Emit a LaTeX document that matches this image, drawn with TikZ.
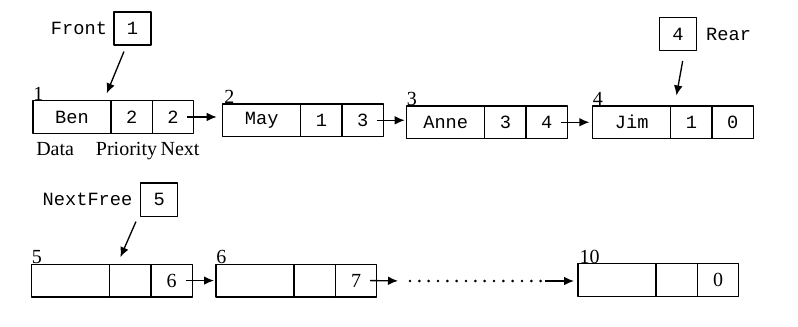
\documentclass[tikz,border=0pt]{standalone}
\usepackage{fontspec}
\setmainfont{Liberation Serif}
\setmonofont{Liberation Mono}
\usetikzlibrary{positioning,arrows.meta}

\tikzset{
  cell/.style={draw,line width=1.1pt,outer sep=0pt,inner sep=0pt,minimum height=24.4pt,
    font=\ttfamily\fontsize{14}{16}\selectfont},
  datacell/.style={cell,minimum width=58.5pt},
  numcell/.style={cell,minimum width=31pt},
  freecell/.style={font=\rmfamily\fontsize{15}{17}\selectfont},
  ptrbox/.style={draw,line width=1.1pt,inner sep=0pt,minimum width=27.8pt,minimum height=24.8pt,
    font=\ttfamily\fontsize{14}{16}\selectfont},
  ptrname/.style={inner sep=0pt,font=\ttfamily\fontsize{14}{16}\selectfont},
  idx/.style={inner sep=0pt,anchor=south west,font=\fontsize{15}{17}\selectfont},
  lbl/.style={inner sep=0pt,anchor=base,font=\fontsize{15}{17}\selectfont},
  link/.style={line width=1pt,-{Latex[length=7.5pt,width=6.5pt]}},
}

\begin{document}
\begin{tikzpicture}[x=0.75pt,y=-0.75pt,line join=round]
  \useasboundingbox (0,0) rectangle (798,326);

  % queue in use
  \node[datacell,anchor=north west] (n1d) at (33,100.7) {Ben};
  \node[numcell,right=0pt of n1d] (n1p) {2};
  \node[numcell,right=0pt of n1p] (n1n) {2};
  \node[idx] (i1) at (n1d.north west) {1};

  \node[datacell,anchor=north west] (n2d) at (222.7,104) {May};
  \node[numcell,right=0pt of n2d] (n2p) {1};
  \node[numcell,right=0pt of n2p] (n2n) {3};
  \node[idx] (i2) at ([xshift=1pt]n2d.north west) {2};

  \node[datacell,anchor=north west] (n3d) at (406.7,106) {Anne};
  \node[numcell,right=0pt of n3d] (n3p) {3};
  \node[numcell,right=0pt of n3p] (n3n) {4};
  \node[idx] (i3) at (n3d.north west) {3};

  \node[datacell,anchor=north west] (n4d) at (592.7,106) {Jim};
  \node[numcell,right=0pt of n4d] (n4p) {1};
  \node[numcell,right=0pt of n4p] (n4n) {0};
  \node[idx] (i4) at (n4d.north west) {4};

  % field names
  \node[lbl,anchor=base west] (capData) at (36,155) {Data};
  \node[lbl] (capPrio) at (126.5,155) {Priority};
  \node[lbl] (capNext) at (180,155) {Next};

  \draw[link,shorten >=4.5pt] ([xshift=-5pt]n1n.east) -- (n2d.west |- n1n.east);
  \draw[link,shorten >=1.5pt] ([xshift=-5pt]n2n.east) -- (n3d.west |- n2n.east);
  \draw[link,shorten >=2.5pt] ([xshift=-5pt]n3n.east) -- (n4d.west |- n3n.east);

  % front and rear pointers
  \node[ptrbox] (front) at (132.5,28.5) {1};
  \node[ptrname,left=4.5pt of front] (frontName) {Front};
  \draw[link] ([xshift=-6.4pt,yshift=-4.3pt]front.south) -- ([xshift=-3.2pt,yshift=5.5pt]n1d.north east);

  \node[ptrbox] (rear) at (678,34) {4};
  \node[ptrname,right=6.5pt of rear] (rearName) {Rear};
  \draw[link] ([xshift=3.5pt,yshift=-7.3pt]rear.south) -- ([xshift=4.3pt,yshift=7.9pt]n4p.north west);

  % free list
  \node[datacell,anchor=north west] (n5d) at (31.7,264.3) {};
  \node[numcell,right=0pt of n5d] (n5p) {};
  \node[numcell,freecell,right=0pt of n5p] (n5n) {6};
  \node[idx] (i5) at (n5d.north west) {5};

  \node[datacell,anchor=north west] (n6d) at (216,264.3) {};
  \node[numcell,right=0pt of n6d] (n6p) {};
  \node[numcell,freecell,right=0pt of n6p] (n6n) {7};
  \node[idx] (i6) at (n6d.north west) {6};

  \node[datacell,anchor=north west] (n10d) at (578,263.7) {};
  \node[numcell,right=0pt of n10d] (n10p) {};
  \node[numcell,freecell,right=0pt of n10p] (n10n) {0};
  \node[idx] (i10) at ([xshift=1pt]n10d.north west) {10};

  \coordinate (dotL) at (410,281);
  \coordinate (dotR) at (545,281);
  \draw[link,shorten >=1.5pt] ([xshift=-5pt]n5n.east) -- (n6d.west |- n5n.east);
  \draw[link,shorten >=9pt] ([xshift=-5pt]n6n.east) -- (dotL);
  \draw[line width=2.2pt,line cap=round,dash pattern=on 0pt off 7pt] (dotL) -- ([xshift=-3pt]dotR);
  \draw[link,shorten >=3pt] (dotR) -- (n10d.west |- dotR);

  \node[ptrbox] (nextFree) at (159.2,199.7) {5};
  \node[ptrname,left=5.5pt of nextFree] (nextFreeName) {NextFree};
  \draw[link] ([xshift=-3pt,yshift=-3.5pt]nextFree.south west) -- ([xshift=8pt,yshift=5.3pt]n5d.north east);
\end{tikzpicture}
\end{document}
